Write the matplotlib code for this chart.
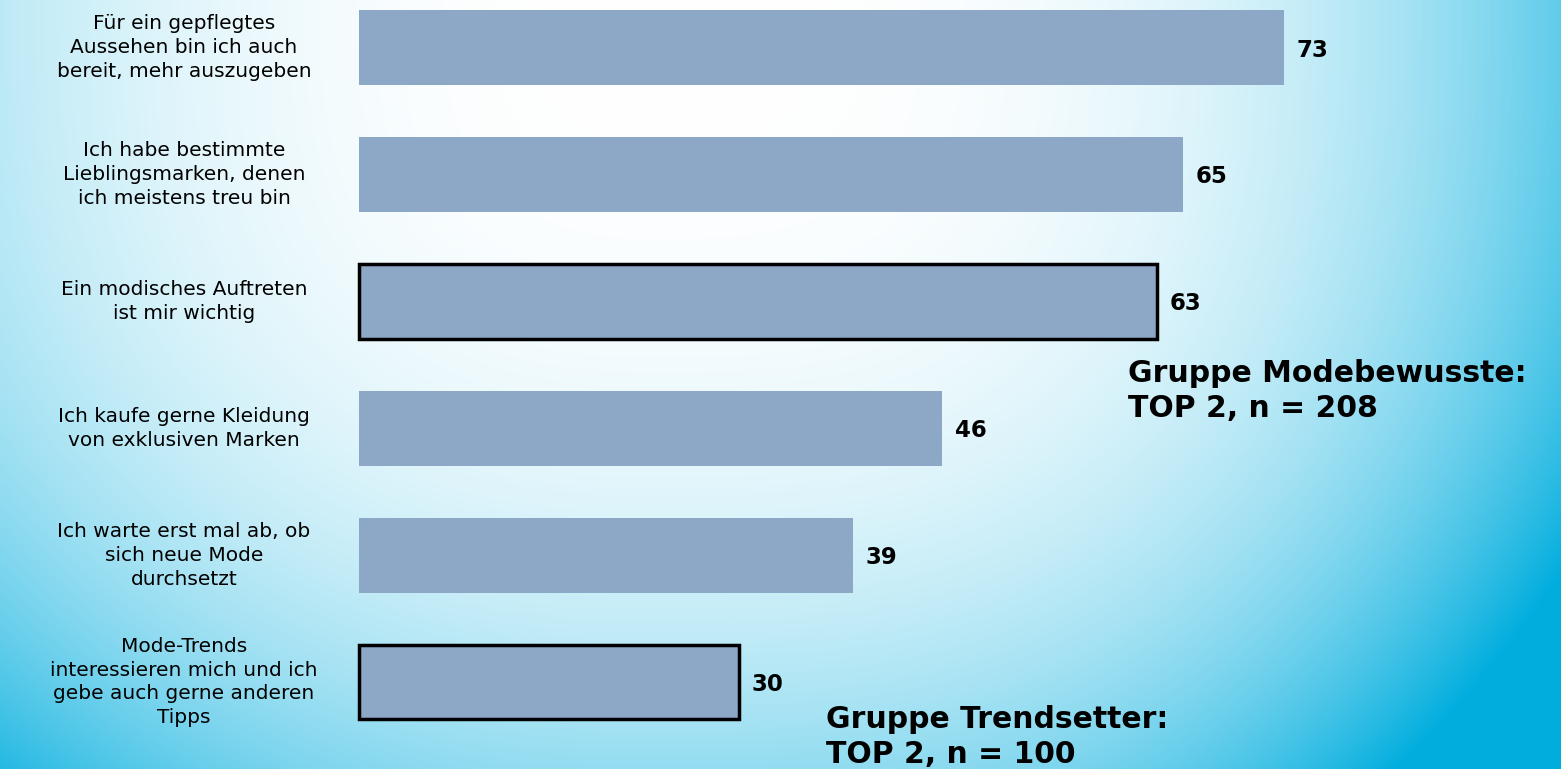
import numpy as np
import matplotlib
matplotlib.use("Agg")
import matplotlib.pyplot as plt

labels = [
    "Für ein gepflegtes\nAussehen bin ich auch\nbereit, mehr auszugeben",
    "Ich habe bestimmte\nLieblingsmarken, denen\nich meistens treu bin",
    "Ein modisches Auftreten\nist mir wichtig",
    "Ich kaufe gerne Kleidung\nvon exklusiven Marken",
    "Ich warte erst mal ab, ob\nsich neue Mode\ndurchsetzt",
    "Mode-Trends\ninteressieren mich und ich\ngebe auch gerne anderen\nTipps",
]
values = [73, 65, 63, 46, 39, 30]
highlighted = [False, False, True, False, False, True]
group_notes = ["Gruppe Modebewusste:\nTOP 2, n = 208", "Gruppe Trendsetter:\nTOP 2, n = 100"]

W, H = 1561, 769
fig = plt.figure(figsize=(W / 100, H / 100), dpi=100)

# background gradient (white centre, light blue edges, stronger at right/bottom)
bg = fig.add_axes([0, 0, 1, 1])
bg.set_axis_off()
nx, ny = 400, 300
xx, yy = np.meshgrid(np.linspace(0, 1, nx), np.linspace(0, 1, ny))
dx = xx - 0.42
wx = np.where(dx > 0, (np.clip(dx, 0, None) / 0.58) ** 3.0 * 0.62,
              (np.clip(-dx, 0, None) / 0.42) ** 2.5 * 0.26)
wy = yy ** 2.8 * 0.42
w = np.clip(wx + wy + wx * wy * 1.6, 0, 1)[..., None]
blue = np.array([0.0, 0.68, 0.87])
img = (1 - w) * np.ones(3) + w * blue
bg.imshow(img, extent=[0, 1, 0, 1], origin="upper", aspect="auto",
          interpolation="bilinear")
bg.set_xlim(0, 1)
bg.set_ylim(0, 1)

# bar axes spanning full figure, mapped to pixels
ax = fig.add_axes([0, 0, 1, 1])
ax.set_axis_off()
ax.patch.set_alpha(0)
px_per_unit = (1284 - 359) / 73.0
x0 = 359
ax.set_xlim(-x0 / px_per_unit, (W - x0) / px_per_unit)
row_px = 126.9
first_center = 47.5
ax.set_ylim((H - first_center) / row_px, -first_center / row_px)

ypos = np.arange(len(values))
bar_color = "#8DA8C7"
for y, v, hl in zip(ypos, values, highlighted):
    ax.barh(y, v, height=0.59, color=bar_color,
            edgecolor="black" if hl else "none",
            linewidth=2.5 if hl else 0, zorder=2)
    ax.text(v + 1.0, y + 0.02, str(v), ha="left", va="center",
            fontsize=16.5, fontweight="bold", color="black", zorder=3)

label_x = (184 - x0) / px_per_unit
for y, lab in zip(ypos, labels):
    ax.text(label_x, y, lab, ha="center", va="center", multialignment="center",
            fontsize=14.5, color="black", linespacing=1.33)

# group notes in pixel coords
fig.text(1128 / W, 1 - 391 / H, group_notes[0], ha="left", va="center",
         fontsize=21.5, fontweight="bold", color="black", linespacing=1.25)
fig.text(826 / W, 1 - 737 / H, group_notes[1], ha="left", va="center",
         fontsize=21.5, fontweight="bold", color="black", linespacing=1.25)

fig.savefig("out.png", dpi=100)
